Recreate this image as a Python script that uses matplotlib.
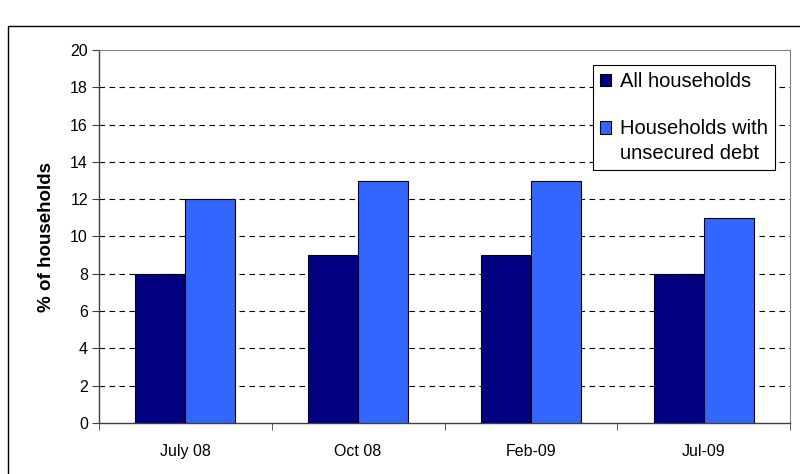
import numpy as np
import matplotlib.pyplot as plt
from matplotlib.patches import Rectangle

plt.rcParams['font.family'] = ['Liberation Sans', 'DejaVu Sans']

categories = ['July 08', 'Oct 08', 'Feb-09', 'Jul-09']
all_households = [8, 9, 9, 8]
unsecured_debt = [12, 13, 13, 11]
series_names = ['All households', 'Households with\nunsecured debt']

fig = plt.figure(figsize=(8, 4.74), dpi=100)
# outer chart frame
fig.patches.append(Rectangle((8 / 800, -0.05), 1.0, (474 - 26) / 474 + 0.05,
                             transform=fig.transFigure, fill=False,
                             edgecolor='black', linewidth=1.0))
ax = fig.add_axes([99 / 800, 51 / 474, 691 / 800, 373 / 474])

x = np.arange(len(categories))
w = 0.29
ax.bar(x - w / 2, all_households, w, color='#000080', edgecolor='black',
       linewidth=0.8, label=series_names[0], zorder=3)
ax.bar(x + w / 2, unsecured_debt, w, color='#3366FF', edgecolor='black',
       linewidth=0.8, label=series_names[1], zorder=3)

ax.set_xlim(-0.5, 3.5)
ax.set_ylim(0, 20)
ax.set_yticks(range(0, 21, 2))
ax.set_xticks(x)
ax.set_xticklabels(categories, fontsize=11.5)
ax.set_xticks(np.arange(-0.5, 4, 1), minor=True)
ax.tick_params(axis='x', which='major', length=0, pad=15)
ax.tick_params(axis='x', which='minor', length=5, direction='out', color='#404040')
ax.tick_params(axis='y', length=5, direction='out', labelsize=11.5, color='#404040', pad=3)

for yv in range(2, 20, 2):
    ax.axhline(yv, color='black', linestyle=(0, (5, 4)), linewidth=0.8, zorder=1)

for s in ['left', 'bottom']:
    ax.spines[s].set_color('#404040')
    ax.spines[s].set_linewidth(1.0)
for s in ['top', 'right']:
    ax.spines[s].set_color('#808080')

ax.set_ylabel('% of households', fontsize=13.5, fontweight='bold', labelpad=11)

fs = 14.5
leg = ax.legend(loc='upper right', bbox_to_anchor=(0.978, 0.96), fontsize=fs,
                handlelength=0.55, handleheight=0.55, handletextpad=0.45,
                labelspacing=1.4, borderpad=0.35, borderaxespad=0, fancybox=False,
                framealpha=1, edgecolor='black')
leg.get_frame().set_linewidth(0.8)
for t in leg.get_texts():
    t.set_linespacing(1.4)
# Excel puts the marker next to the first line of a wrapped label
h2 = leg.legend_handles[1]
h2.set_y(h2.get_y() + 0.7 * fs)

fig.savefig('out.png', dpi=100)
